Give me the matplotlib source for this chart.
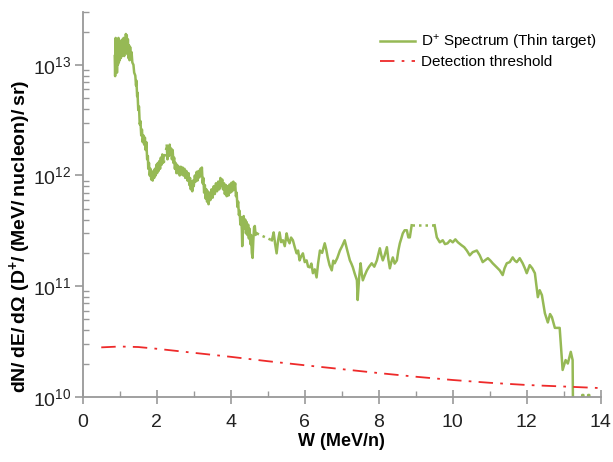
import matplotlib
matplotlib.use("Agg")
import matplotlib.pyplot as plt
from matplotlib.ticker import LogLocator, MultipleLocator, NullFormatter

plt.rcParams['font.family'] = ['Liberation Sans', 'DejaVu Sans']
plt.rcParams['mathtext.default'] = 'regular'

# ---- data ----
# spectrum, solid segment A (W in MeV/n, dN/dE/dOmega)
w_a = [0.865, 0.875, 0.89, 0.90, 0.915, 0.925, 0.94, 0.95, 0.965, 0.975, 0.99, 1.0,
       1.015, 1.03, 1.045, 1.06, 1.075, 1.09, 1.105, 1.12, 1.14, 1.155, 1.165, 1.18,
       1.19, 1.205, 1.22, 1.235, 1.25, 1.265, 1.28, 1.30, 1.32, 1.34, 1.37, 1.39,
       1.42, 1.44, 1.45, 1.47, 1.48, 1.50, 1.52, 1.54, 1.56, 1.58, 1.60, 1.62, 1.64, 1.66,
       1.68, 1.70, 1.72, 1.74, 1.76, 1.77, 1.79, 1.81, 1.83, 1.85, 1.87, 1.89, 1.91, 1.93,
       1.95, 1.97, 1.99, 2.01, 2.03, 2.05, 2.07, 2.09, 2.11, 2.13, 2.15, 2.17, 2.19]
y_a = [1.2e13, 7.9e12, 1.75e13, 9.5e12, 1.7e13, 8.5e12, 1.6e13, 1.0e13, 1.75e13, 1.05e13,
       1.55e13, 1.1e13, 1.65e13, 1.15e13, 1.5e13, 1.2e13, 1.7e13, 1.25e13, 1.75e13, 1.2e13,
       1.6e13, 1.3e13, 1.9e13, 1.35e13, 1.85e13, 1.25e13, 1.7e13, 1.15e13, 1.5e13, 1.1e13,
       1.45e13, 1.15e13, 1.3e13, 1.05e13, 1.0e13, 8.5e12,
       8.0e12, 6.5e12, 7.2e12, 5.2e12, 5.6e12, 3.9e12, 4.2e12, 2.9e12, 3.1e12, 2.3e12,
       2.6e12, 2.0e12, 2.3e12, 1.9e12, 2.2e12, 1.7e12, 2.0e12, 1.4e12, 1.5e12, 1.15e12,
       1.3e12, 1.0e12, 1.15e12, 9.2e11, 1.05e12, 9.0e11, 1.1e12, 9.5e11, 1.15e12, 1.0e12,
       1.25e12, 1.05e12, 1.3e12, 1.1e12, 1.35e12, 1.15e12, 1.45e12, 1.25e12, 1.55e12,
       1.3e12, 1.5e12]

# solid segment B
w_b = [2.27, 2.29, 2.31, 2.33, 2.35, 2.37, 2.39, 2.41, 2.43, 2.45, 2.47, 2.49, 2.51, 2.53,
       2.55, 2.57, 2.60, 2.62, 2.65, 2.67, 2.70, 2.72, 2.75, 2.77, 2.80, 2.83, 2.86, 2.88,
       2.90, 2.92, 2.94, 2.96, 2.98, 3.00, 3.03, 3.05, 3.08, 3.10, 3.13, 3.15, 3.18, 3.20,
       3.22, 3.24, 3.26, 3.28, 3.30, 3.32, 3.34, 3.36, 3.38, 3.40, 3.43, 3.45, 3.48, 3.51,
       3.54, 3.57, 3.60, 3.63, 3.66, 3.69, 3.72, 3.74, 3.77, 3.79, 3.82, 3.84, 3.87, 3.89,
       3.92, 3.94, 3.97, 3.99, 4.02, 4.04, 4.07, 4.09, 4.12, 4.14, 4.16, 4.18, 4.20, 4.22,
       4.24, 4.26, 4.28, 4.30, 4.31, 4.33, 4.35, 4.37, 4.39, 4.41, 4.43, 4.45, 4.47, 4.49,
       4.51, 4.53, 4.55, 4.57, 4.59, 4.61, 4.63, 4.65, 4.67, 4.70]
y_b = [1.86e12, 1.4e12, 1.8e12, 1.5e12, 1.9e12, 1.55e12, 1.75e12, 1.4e12, 1.7e12, 1.3e12,
       1.45e12, 1.15e12, 1.3e12, 1.05e12, 1.25e12, 1.05e12, 1.2e12, 1.0e12, 1.2e12, 1.02e12,
       1.18e12, 1.0e12, 1.15e12, 9.5e11, 1.1e12, 9.0e11, 1.05e12, 8.2e11, 9.5e11, 7.5e11,
       8.8e11, 7.2e11, 9.0e11, 8.0e11, 1.0e12, 8.8e11, 1.08e12, 9.0e11, 1.1e12, 9.6e11,
       1.15e12, 1.0e12, 1.18e12, 8.5e11, 9.5e11, 7.0e11, 8.2e11, 6.2e11, 7.5e11, 5.8e11,
       7.2e11, 5.5e11, 7.0e11, 6.0e11, 7.5e11, 6.3e11, 8.0e11, 6.8e11, 8.5e11, 7.2e11,
       8.8e11, 7.5e11, 9.5e11, 8.0e11, 9.2e11, 7.5e11, 8.5e11, 6.8e11, 8.2e11, 6.5e11,
       8.0e11, 6.6e11, 8.3e11, 7.0e11, 8.6e11, 7.2e11, 8.8e11, 7.5e11, 8.5e11, 6.5e11,
       7.0e11, 5.2e11, 5.8e11, 4.4e11, 4.8e11, 3.6e11, 4.2e11, 3.2e11, 2.3e11, 3.8e11,
       4.3e11, 3.3e11, 4.0e11, 3.0e11, 3.8e11, 2.9e11, 3.6e11, 2.7e11, 3.3e11, 2.4e11,
       2.9e11, 2.0e11, 1.8e11, 2.6e11, 3.4e11, 3.5e11, 2.9e11, 3.0e11]

# solid segment C
w_c = [5.11, 5.14, 5.16, 5.20, 5.24, 5.28, 5.32, 5.36, 5.41, 5.46, 5.51, 5.55, 5.59, 5.63,
       5.68, 5.73, 5.78, 5.82, 5.86, 5.90, 5.95, 6.00, 6.05, 6.09, 6.14, 6.18, 6.22, 6.27,
       6.32, 6.36, 6.41, 6.47, 6.54, 6.58, 6.62, 6.67, 6.73, 6.77, 6.81, 6.88, 6.95, 7.01,
       7.08, 7.15, 7.22, 7.26, 7.30, 7.35, 7.41, 7.43, 7.47, 7.51, 7.54, 7.57, 7.62, 7.68,
       7.74, 7.81, 7.88, 7.95, 7.99, 8.03, 8.07, 8.11, 8.16, 8.22, 8.26, 8.30, 8.34, 8.38,
       8.43, 8.49, 8.53, 8.57, 8.61, 8.65, 8.70, 8.76, 8.80, 8.84, 8.89]
y_c = [2.6e11, 2.85e11, 3.06e11, 2.4e11, 1.98e11, 2.6e11, 3.06e11, 2.5e11, 2.6e11, 2.3e11,
       3.0e11, 2.6e11, 2.44e11, 2.75e11, 2.6e11, 2.25e11, 1.98e11, 2.1e11, 1.71e11, 1.85e11,
       1.98e11, 1.65e11, 1.71e11, 1.5e11, 1.48e11, 1.6e11, 1.31e11, 1.42e11, 1.2e11, 1.6e11,
       2.1e11, 2.0e11, 2.44e11, 2.15e11, 1.82e11, 1.55e11, 1.39e11, 1.7e11, 1.61e11, 1.8e11,
       2.1e11, 2.3e11, 2.6e11, 2.1e11, 1.71e11, 1.6e11, 1.48e11, 1.3e11, 1.13e11, 7.5e10,
       1.2e11, 1.61e11, 1.3e11, 1.13e11, 1.25e11, 1.39e11, 1.5e11, 1.61e11, 1.5e11, 1.71e11,
       1.95e11, 2.2e11, 1.9e11, 1.71e11, 1.9e11, 2.25e11, 1.75e11, 1.45e11, 1.65e11, 1.82e11,
       1.6e11, 1.71e11, 2.1e11, 2.44e11, 2.7e11, 3.0e11, 3.2e11, 3.2e11, 2.76e11, 2.76e11,
       3.55e11]

# solid segment D
w_d = [9.51, 9.57, 9.65, 9.73, 9.79, 9.86, 9.93, 10.0, 10.07, 10.14, 10.24, 10.31, 10.38,
       10.46, 10.54, 10.65, 10.73, 10.81, 10.88, 10.95, 11.02, 11.08, 11.19, 11.27, 11.35,
       11.40, 11.46, 11.54, 11.62, 11.68, 11.73, 11.81, 11.89, 11.95, 12.0, 12.08, 12.15,
       12.22, 12.30, 12.35, 12.41, 12.49, 12.57, 12.63, 12.68, 12.76, 12.89, 12.97, 13.05,
       13.11, 13.19, 13.24, 13.25]
y_d = [3.55e11, 2.76e11, 2.49e11, 2.6e11, 2.4e11, 2.44e11, 2.6e11, 2.49e11, 2.65e11,
       2.49e11, 2.34e11, 2.25e11, 2.1e11, 1.9e11, 2.03e11, 2.1e11, 1.9e11, 1.65e11, 1.72e11,
       1.79e11, 1.7e11, 1.61e11, 1.48e11, 1.39e11, 1.26e11, 1.45e11, 1.61e11, 1.65e11,
       1.82e11, 1.7e11, 1.65e11, 1.79e11, 1.61e11, 1.45e11, 1.31e11, 1.55e11, 1.45e11,
       1.31e11, 7.96e10, 9.2e10, 8.3e10, 5.7e10, 4.7e10, 5.6e10, 5.25e10, 4.2e10, 4.2e10,
       1.75e10, 2.15e10, 2.0e10, 2.55e10, 2.15e10, 8e9]

# tail pieces near the bottom
w_e = [13.48, 13.50, 13.53, 13.56]
y_e = [8e9, 1.04e10, 1.04e10, 8e9]
w_f = [13.64, 13.66, 13.69, 13.71]
y_f = [8e9, 1.04e10, 1.04e10, 8e9]

# dotted gap connectors
w_gap1 = [2.19, 2.27]
y_gap1 = [1.3e12, 1.86e12]
w_gap2 = [4.70, 5.11]
y_gap2 = [3.0e11, 2.6e11]
w_gap3 = [8.89, 9.51]
y_gap3 = [3.55e11, 3.55e11]

# detection threshold
w_thr = [0.5, 1.0, 1.5, 2.0, 3.0, 4.0, 5.0, 6.0, 7.0, 8.0, 9.0, 10.0, 11.0, 12.0, 13.0, 14.0]
y_thr = [2.8e10, 2.85e10, 2.82e10, 2.72e10, 2.5e10, 2.3e10, 2.1e10, 1.93e10, 1.78e10,
         1.64e10, 1.52e10, 1.42e10, 1.34e10, 1.28e10, 1.24e10, 1.2e10]

green = '#96b955'
red = '#ee2a2a'
gray = '#999999'

fig = plt.figure(figsize=(6.13, 4.62), dpi=100)
ax = fig.add_axes([0.135, 0.141, 0.845, 0.833])

lw = 1.8
ax.plot(w_a, y_a, color=green, lw=lw, label='D$^{+}$ Spectrum (Thin target)')
for wx, yx in [(w_b, y_b), (w_c, y_c), (w_d, y_d), (w_e, y_e), (w_f, y_f)]:
    ax.plot(wx, yx, color=green, lw=lw)
for wx, yx in [(w_gap1, y_gap1), (w_gap2, y_gap2), (w_gap3, y_gap3)]:
    ax.plot(wx, yx, color=green, lw=lw, ls=(0, (1, 1.6)))
ax.plot(w_thr, y_thr, color=red, lw=1.3, ls=(0, (8, 4, 1.5, 4)), label='Detection threshold')

ax.set_yscale('log')
ax.set_xlim(0, 14)
ax.set_ylim(1e10, 3e13)

ax.xaxis.set_major_locator(MultipleLocator(2))
ax.xaxis.set_minor_locator(MultipleLocator(1))
ax.yaxis.set_major_locator(LogLocator(base=10, numticks=10))
ax.yaxis.set_minor_locator(LogLocator(base=10, subs=range(2, 10), numticks=20))
ax.yaxis.set_minor_formatter(NullFormatter())

for s in ['top', 'right']:
    ax.spines[s].set_visible(False)
for s in ['left', 'bottom']:
    ax.spines[s].set_color(gray)
    ax.spines[s].set_linewidth(1.3)

ax.tick_params(axis='x', which='major', direction='inout', length=10, width=1.2, color=gray,
               labelsize=14, pad=7, labelcolor='#222222')
ax.tick_params(axis='x', which='minor', direction='in', length=4, width=1.0, color=gray)
ax.tick_params(axis='y', which='major', direction='out', length=6, width=1.2, color=gray,
               labelsize=14, pad=2, labelcolor='#222222')
ax.tick_params(axis='y', which='minor', direction='in', length=4, width=1.0, color=gray)

ax.set_xlabel('W (MeV/n)', fontsize=13, fontweight='bold', labelpad=2)
ax.set_ylabel('dN/\u2009dE/\u2009dΩ (D$^{+}$/\u2009(MeV/\u2009nucleon)/\u2009sr)',
              fontsize=14, fontweight='bold')
ax.yaxis.set_label_coords(-0.096, 0.418)

leg = ax.legend(loc='upper right', bbox_to_anchor=(1.004, 0.961), frameon=False, fontsize=11,
                handlelength=2.3, handletextpad=0.4, labelspacing=0.2, borderaxespad=0.0)

fig.savefig('out.png', dpi=100)
